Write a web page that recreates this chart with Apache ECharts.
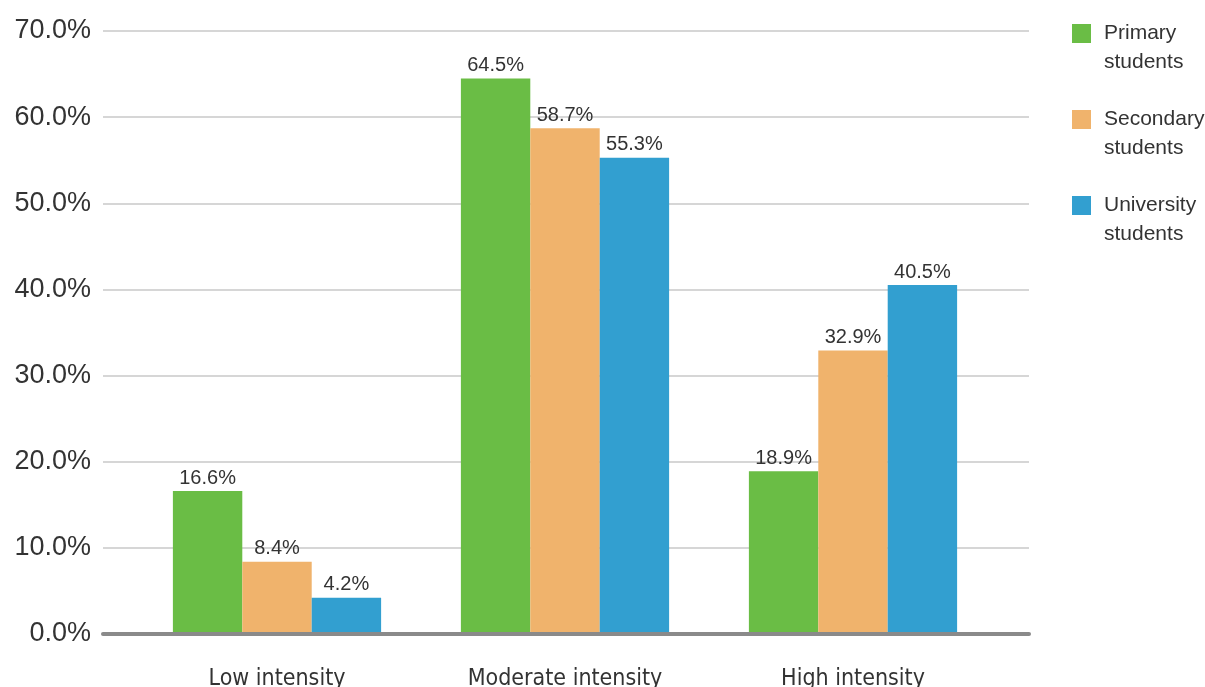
<!DOCTYPE html>
<html>
<head>
<meta charset="utf-8">
<script src="https://cdn.jsdelivr.net/npm/echarts@6/dist/echarts.min.js"></script>
<style>
html,body{margin:0;padding:0;background:#fff;}
#chart{width:1205px;height:687px;}
</style>
</head>
<body>
<div id="chart"></div>
<script>
const categories = ['Low intensity', 'Moderate intensity', 'High intensity'];
const seriesNames = ['Primary\nstudents', 'Secondary\nstudents', 'University\nstudents'];
const primary = [16.6, 64.5, 18.9];
const secondary = [8.4, 58.7, 32.9];
const university = [4.2, 55.3, 40.5];
const yTicks = [0, 10, 20, 30, 40, 50, 60, 70];

const colors = ['#6abd45', '#f0b36c', '#329fd0'];
const seriesData = [primary, secondary, university];
const textColor = '#333333';

const chart = echarts.init(document.getElementById('chart'));
const iconPath = 'path://M0,0 M0,5 L19,5 L19,24 L0,24 Z M19,58';

const option = {
  animation: false,
  backgroundColor: '#ffffff',
  grid: [
    { left: 103, right: 176, top: 31, bottom: 53, outerBoundsMode: 'none', containLabel: false },
    { left: 133, right: 208, top: 31, bottom: 53, outerBoundsMode: 'none', containLabel: false }
  ],
  legend: {
    orient: 'vertical',
    left: 1072,
    top: 19,
    padding: 0,
    itemWidth: 19,
    itemHeight: 58,
    itemGap: 28,
    icon: iconPath,
    data: seriesNames,
    textStyle: {
      fontFamily: 'Liberation Sans, Arial, sans-serif',
      fontSize: 21,
      lineHeight: 29,
      color: textColor,
      padding: [0, 0, 0, 8]
    }
  },
  xAxis: [
    {
      gridIndex: 0, type: 'value', min: 0, max: 1, z: 10,
      axisLine: { show: true, lineStyle: { color: '#8a8a8a', width: 4 } },
      axisTick: { show: false }, axisLabel: { show: false }, splitLine: { show: false }
    },
    {
      gridIndex: 1, type: 'category', data: categories,
      axisLine: { show: false }, axisTick: { show: false }, splitLine: { show: false },
      axisLabel: {
        interval: 0,
        margin: 34,
        fontFamily: 'DejaVu Sans Condensed, sans-serif',
        fontSize: 23,
        color: textColor
      }
    }
  ],
  yAxis: [
    {
      gridIndex: 0, type: 'value', min: yTicks[0], max: yTicks[yTicks.length - 1], interval: 10,
      axisLine: { show: false }, axisTick: { show: false },
      splitLine: { show: true, lineStyle: { color: '#d6d6d6', width: 2 } },
      axisLabel: {
        margin: 12,
        fontFamily: 'Liberation Sans, Arial, sans-serif',
        fontSize: 27,
        color: textColor,
        formatter: v => v.toFixed(1) + '%'
      }
    },
    {
      gridIndex: 1, type: 'value', min: yTicks[0], max: yTicks[yTicks.length - 1], interval: 10,
      show: false, splitLine: { show: false }
    }
  ],
  series: seriesNames.map((name, i) => ({
    name: name,
    type: 'bar',
    xAxisIndex: 1,
    yAxisIndex: 1,
    data: seriesData[i],
    barGap: '0%',
    barCategoryGap: '27.7%',
    itemStyle: { color: colors[i] },
    label: {
      show: true,
      position: 'top',
      distance: 3,
      fontFamily: 'Liberation Sans, Arial, sans-serif',
      fontSize: 20,
      color: textColor,
      formatter: p => p.value.toFixed(1) + '%'
    }
  }))
};
chart.setOption(option);
</script>
</body>
</html>
